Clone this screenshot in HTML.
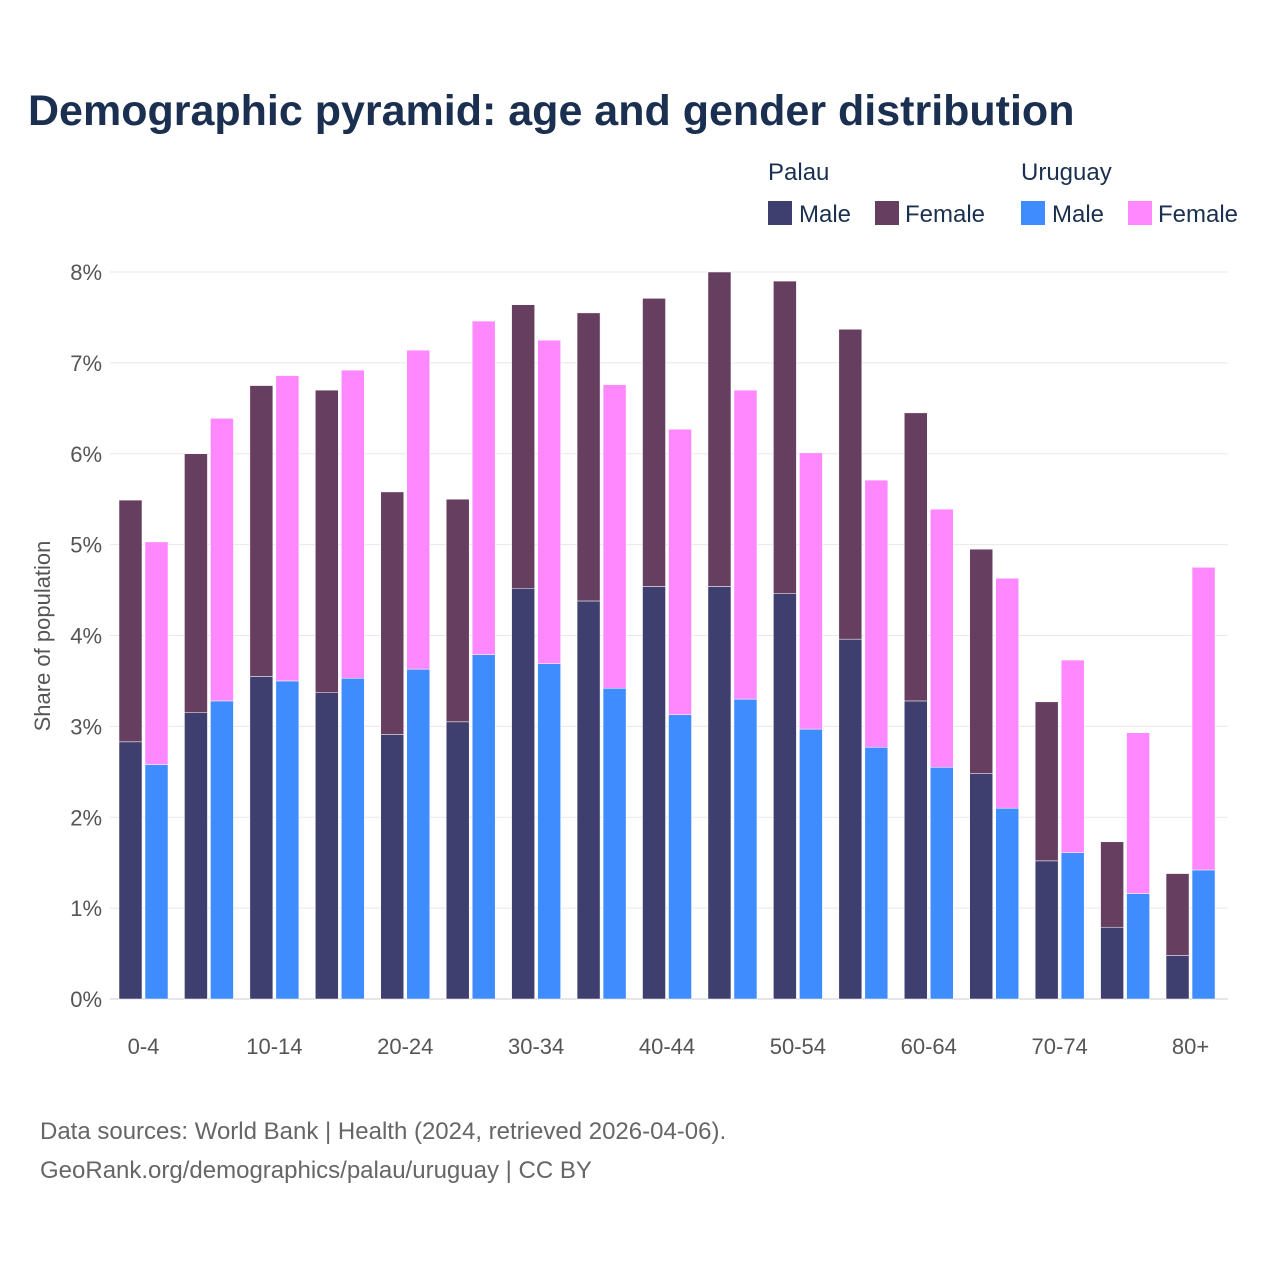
<!DOCTYPE html>
<html><head><meta charset="utf-8"><style>
body{margin:0;background:#fff;font-family:"Liberation Sans",sans-serif;}
#wrap{position:relative;width:1280px;height:1280px;}
</style></head><body>
<div id="wrap">
<svg id="chart" width="1280" height="1280" xmlns="http://www.w3.org/2000/svg">
<text x="28" y="125" font-size="43" font-weight="bold" fill="#1b3050" font-family="Liberation Sans, sans-serif">Demographic pyramid: age and gender distribution</text>
<g font-size="24" fill="#1b3050">
<text x="768" y="180">Palau</text>
<text x="1021" y="180">Uruguay</text>
<rect x="768" y="201" width="24" height="24" fill="#3f3f6f"/>
<text x="799" y="222">Male</text>
<rect x="875" y="201" width="24" height="24" fill="#663f60"/>
<text x="905" y="222">Female</text>
<rect x="1021" y="201" width="24" height="24" fill="#3f8cff"/>
<text x="1052" y="222">Male</text>
<rect x="1128" y="201" width="24" height="24" fill="#ff88ff"/>
<text x="1158" y="222">Female</text>
</g>
<text transform="translate(50,636) rotate(-90)" text-anchor="middle" font-size="22" fill="#555">Share of population</text>
<g id="grid"></g><g id="bars"></g><g id="ticks"></g>
<text x="40" y="1139" font-size="24" fill="#666">Data sources: World Bank | Health (2024, retrieved 2026-04-06).</text>
<text x="40" y="1178" font-size="24" fill="#666">GeoRank.org/demographics/palau/uruguay | CC BY</text>
</svg>
</div>
<script>
const categories=["0-4","5-9","10-14","15-19","20-24","25-29","30-34","35-39","40-44","45-49","50-54","55-59","60-64","65-69","70-74","75-79","80+"];
const palauMale=[2.83,3.15,3.55,3.37,2.91,3.05,4.52,4.38,4.54,4.54,4.46,3.96,3.28,2.48,1.52,0.79,0.48];
const palauFemale=[2.66,2.85,3.20,3.33,2.67,2.45,3.12,3.17,3.17,3.46,3.44,3.41,3.17,2.47,1.75,0.94,0.90];
const uruguayMale=[2.58,3.28,3.50,3.53,3.63,3.79,3.69,3.42,3.13,3.30,2.97,2.77,2.55,2.10,1.61,1.16,1.42];
const uruguayFemale=[2.45,3.11,3.36,3.39,3.51,3.67,3.56,3.34,3.14,3.40,3.04,2.94,2.84,2.53,2.12,1.77,3.33];
const yTicks=[0,1,2,3,4,5,6,7,8];
const xTickLabels=["0-4","10-14","20-24","30-34","40-44","50-54","60-64","70-74","80+"];
const NS="http://www.w3.org/2000/svg";
const y0=999,pxPer=90.875,left=110,right=1228,band=65.44;
function yScale(v){return y0-v*pxPer;}
function xBand(i){return left+i*band;}
function mk(tag,attrs,parent){const e=document.createElementNS(NS,tag);for(const k in attrs)e.setAttribute(k,attrs[k]);parent.appendChild(e);return e;}
const grid=document.getElementById('grid'),bars=document.getElementById('bars'),ticks=document.getElementById('ticks');
yTicks.forEach(t=>{
  const l=mk('line',{x1:left,x2:right,y1:yScale(t),y2:yScale(t),stroke:t===0?'#ccc':'#e8e8e8','stroke-width':1},grid);
  
  
  const tx=mk('text',{x:102,y:yScale(t)+8,'text-anchor':'end','font-size':22,fill:'#555'},ticks);
  tx.textContent=t+'%';
  
  
});
const bw=23;
function bar(x,v0,v1,color,name){
  const r=mk('rect',{x:x,y:yScale(v1),width:bw,height:yScale(v0)-yScale(v1),fill:color,stroke:'#fff','stroke-width':0.5},bars);
  
  
}
categories.forEach((c,i)=>{
  const x=xBand(i)+9;
  bar(x,0,palauMale[i],'#3f3f6f','bar-palau-male-'+c);
  bar(x,palauMale[i],palauMale[i]+palauFemale[i],'#663f60','bar-palau-female-'+c);
  bar(x+26,0,uruguayMale[i],'#3f8cff','bar-uruguay-male-'+c);
  bar(x+26,uruguayMale[i],uruguayMale[i]+uruguayFemale[i],'#ff88ff','bar-uruguay-female-'+c);
  if(xTickLabels.indexOf(c)>=0){
    const t=mk('text',{x:x+24.5,y:1054,'text-anchor':'middle','font-size':22,fill:'#555'},ticks);
    t.textContent=c;
    
    
  }
});
</script>
</body></html>
